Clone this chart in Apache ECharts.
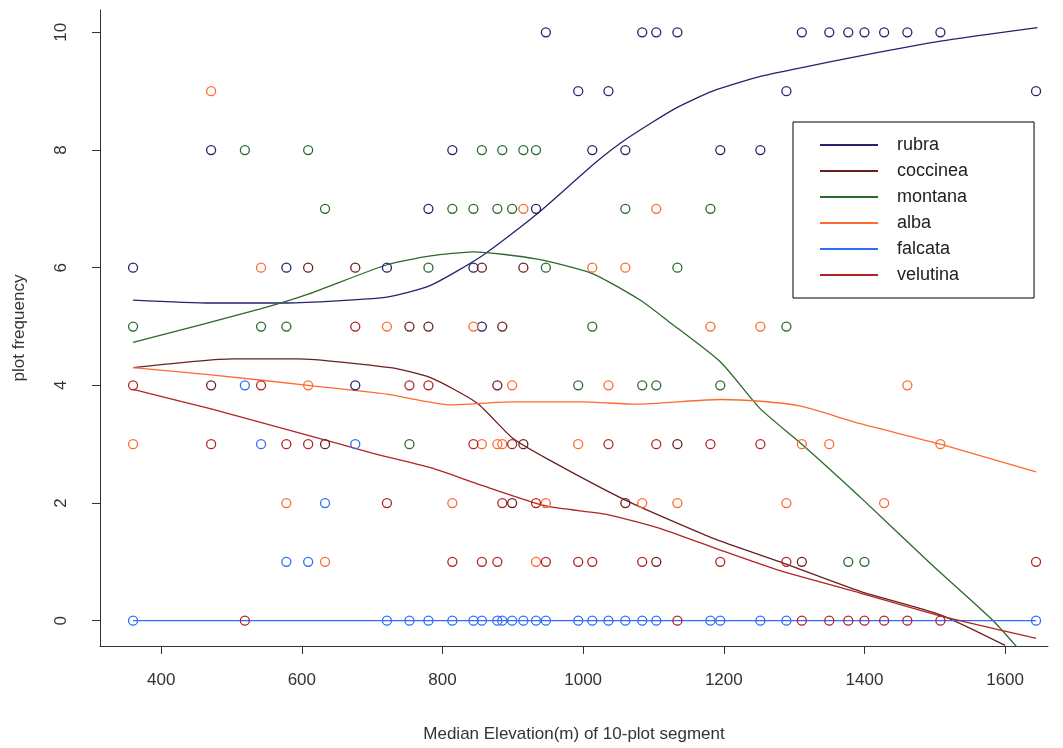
<!DOCTYPE html>
<html>
<head>
<meta charset="utf-8">
<script src="https://cdn.jsdelivr.net/npm/echarts@6/dist/echarts.min.js"></script>
<style>html,body{margin:0;padding:0;background:#fff}#main{width:1063px;height:748px}</style>
</head>
<body>
<div id="main"></div>
<script>
var speciesNames = ['rubra', 'coccinea', 'montana', 'alba', 'falcata', 'velutina'];
var speciesColors = ['#23236e', '#6b1f1f', '#2a6a2a', '#ff6a2e', '#2f6bff', '#b22424'];
var xTicks = [400, 600, 800, 1000, 1200, 1400, 1600];
var yTicks = [0, 2, 4, 6, 8, 10];

// observed points [elevation, plot frequency]
var rubraPts = [[947,10],[1084,10],[1104,10],[1134,10],[1311,10],[1350,10],[1377,10],[1400,10],[1428,10],[1461,10],[1508,10],
  [993,9],[1036,9],[1289,9],[1644,9],[471,8],[814,8],[1013,8],[1060,8],[1195,8],[1252,8],[780,7],[933,7],
  [360,6],[578,6],[721,6],[844,6],[856,5],[676,4]];
var coccineaPts = [[609,6],[676,6],[856,6],[915,6],[753,5],[780,5],[885,5],[471,4],[878,4],[633,3],[915,3],[1134,3],
  [899,2],[1060,2],[1104,1],[1311,1]];
var montanaPts = [[519,8],[609,8],[856,8],[885,8],[915,8],[933,8],[633,7],[814,7],[844,7],[878,7],[899,7],[1060,7],[1181,7],
  [780,6],[947,6],[1134,6],[360,5],[542,5],[578,5],[1013,5],[1289,5],[993,4],[1084,4],[1104,4],[1195,4],[753,3],[1377,1],[1400,1]];
var albaPts = [[471,9],[915,7],[1104,7],[542,6],[1013,6],[1060,6],[721,5],[844,5],[1181,5],[1252,5],
  [609,4],[899,4],[1036,4],[1461,4],[360,3],[856,3],[878,3],[885,3],[993,3],[1311,3],[1350,3],[1508,3],
  [578,2],[814,2],[947,2],[1084,2],[1134,2],[1289,2],[1428,2],[633,1],[933,1]];
var falcataPts = [[519,4],[542,3],[676,3],[633,2],[578,1],[609,1],
  [360,0],[721,0],[753,0],[780,0],[814,0],[844,0],[856,0],[878,0],[885,0],[899,0],[915,0],[933,0],[947,0],
  [993,0],[1013,0],[1036,0],[1060,0],[1084,0],[1104,0],[1181,0],[1195,0],[1252,0],[1289,0],[1644,0]];
var velutinaPts = [[676,5],[360,4],[542,4],[753,4],[780,4],[471,3],[578,3],[609,3],[844,3],[899,3],[1036,3],[1104,3],[1181,3],[1252,3],
  [721,2],[885,2],[933,2],[814,1],[856,1],[878,1],[947,1],[993,1],[1013,1],[1084,1],[1195,1],[1289,1],[1644,1],
  [519,0],[1134,0],[1311,0],[1350,0],[1377,0],[1400,0],[1428,0],[1461,0],[1508,0]];

// smoothed curves
var rubraFit = [[360,5.45],[470,5.4],[578,5.4],[721,5.5],[783,5.7],[856,6.2],[933,6.9],[1019,7.8],[1063,8.2],[1130,8.7],[1184,9.0],[1252,9.25],[1311,9.4],[1394,9.6],[1508,9.85],[1646,10.08]];
var coccineaFit = [[360,4.3],[502,4.45],[593,4.45],[726,4.3],[783,4.13],[849,3.7],[900,3.1],[949,2.75],[1060,2.05],[1185,1.4],[1280,1.0],[1394,0.5],[1508,0.1],[1600,-0.42]];
var montanaFit = [[360,4.73],[541,5.3],[609,5.55],[721,6.05],[783,6.2],[844,6.27],[933,6.15],[1013,5.9],[1081,5.45],[1120,5.1],[1195,4.4],[1252,3.6],[1311,3.0],[1394,2.1],[1495,0.96],[1583,0],[1617,-0.45]];
var albaFit = [[360,4.3],[471,4.18],[609,4.0],[721,3.85],[811,3.67],[900,3.72],[1000,3.72],[1075,3.68],[1195,3.76],[1252,3.73],[1308,3.65],[1394,3.35],[1508,3.0],[1644,2.53]];
var falcataFit = [[360,0],[1644,0]];
var velutinaFit = [[360,3.93],[471,3.6],[609,3.15],[700,2.85],[783,2.6],[856,2.3],[947,1.95],[1036,1.8],[1114,1.55],[1195,1.2],[1280,0.85],[1394,0.47],[1508,0.08],[1644,-0.3]];

var ptsList = [rubraPts, coccineaPts, montanaPts, albaPts, falcataPts, velutinaPts];
var fitList = [rubraFit, coccineaFit, montanaFit, albaFit, falcataFit, velutinaFit];

var series = [];
speciesNames.forEach(function (name, i) {
  series.push({
    name: name,
    type: 'line',
    data: fitList[i],
    smooth: 0.2,
    showSymbol: false,
    lineStyle: { color: speciesColors[i], width: 1.3 },
    itemStyle: { color: speciesColors[i] },
    z: 3
  });
});
speciesNames.forEach(function (name, i) {
  series.push({
    name: name + ' obs',
    type: 'scatter',
    data: ptsList[i],
    symbol: 'circle',
    symbolSize: 9,
    itemStyle: { color: 'rgba(255,255,255,0)', borderColor: speciesColors[i], borderWidth: 1.3, opacity: 1 },
    z: 4
  });
});

var txt = { fontFamily: 'Liberation Sans, Arial', fontSize: 17, color: '#333' };

var option = {
  backgroundColor: '#fff',
  animation: false,
  grid: { left: 100, right: 15, top: 10, bottom: 98 },
  legend: {
    data: speciesNames,
    orient: 'vertical',
    left: 793, top: 122,
    padding: [14, 66, 14, 27],
    itemGap: 8,
    itemWidth: 58, itemHeight: 2,
    icon: 'rect',
    borderColor: '#000', borderWidth: 1,
    textStyle: { fontFamily: 'Liberation Sans, Arial', fontSize: 18, color: '#222', padding: [0, 0, 0, 14] }
  },
  xAxis: {
    type: 'value',
    min: 313, max: 1661,
    name: 'Median Elevation(m) of 10-plot segment',
    nameLocation: 'middle', nameGap: 80,
    nameTextStyle: txt,
    axisLine: { show: true, onZero: false, lineStyle: { color: '#333' } },
    axisTick: { show: true, length: 8, customValues: xTicks, lineStyle: { color: '#333' } },
    axisLabel: Object.assign({ customValues: xTicks, margin: 26, formatter: function (v) { return String(v); } }, txt),
    splitLine: { show: false }
  },
  yAxis: {
    type: 'value',
    min: -0.43, max: 10.38,
    name: 'plot frequency',
    nameLocation: 'middle', nameGap: 72,
    nameTextStyle: txt,
    axisLine: { show: true, onZero: false, lineStyle: { color: '#333' } },
    axisTick: { show: true, length: 8, customValues: yTicks, lineStyle: { color: '#333' } },
    axisLabel: Object.assign({ customValues: yTicks, rotate: 90, margin: 30 }, txt),
    splitLine: { show: false }
  },
  series: series
};

var chart = echarts.init(document.getElementById('main'));
chart.setOption(option);
</script>
</body>
</html>
